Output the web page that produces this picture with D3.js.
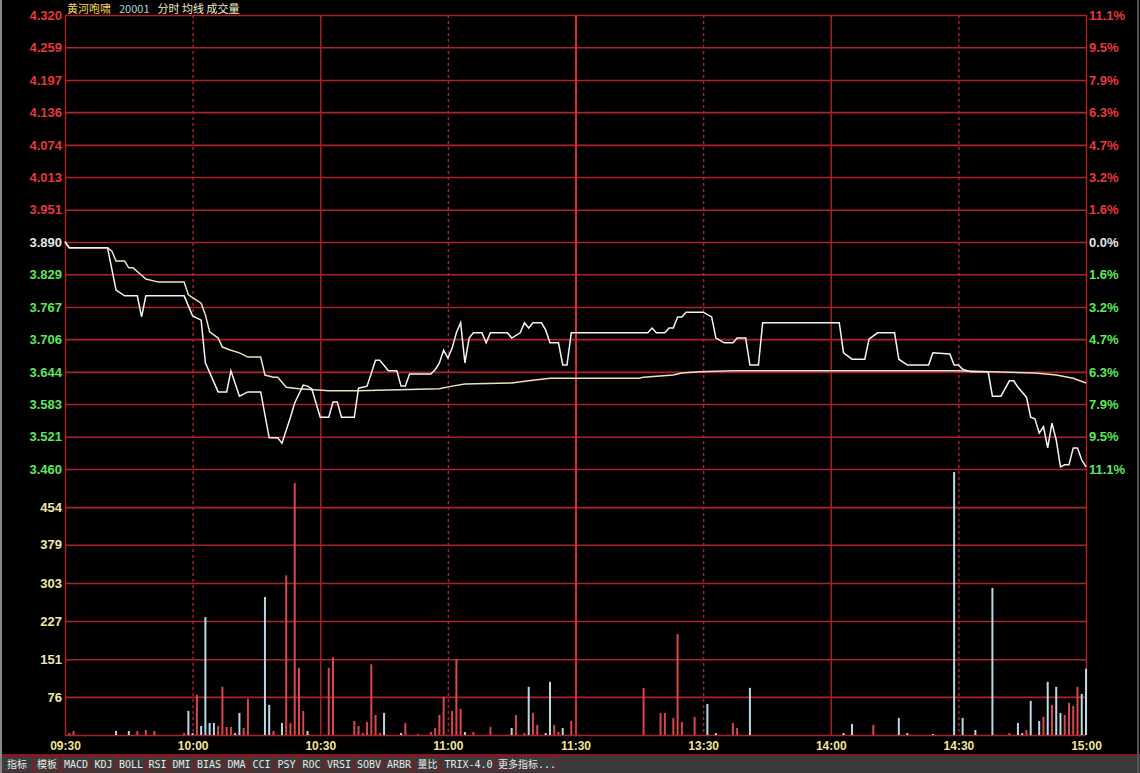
<!DOCTYPE html>
<html><head><meta charset="utf-8">
<script src="https://cdn.jsdelivr.net/npm/d3@7"></script>
<style>
html,body{margin:0;padding:0;background:#000;}
svg{display:block;}
</style></head><body>
<svg id="c" width="1140" height="773"></svg>
<script>
// ---------- data ----------
const timeLabels = ["09:30","10:00","10:30","11:00","11:30","13:30","14:00","14:30","15:00"];
const timeLabelMinutes = [0,30,60,90,120,150,180,210,240];
const priceTicks = [4.320,4.259,4.197,4.136,4.074,4.013,3.951,3.890,3.829,3.767,3.706,3.644,3.583,3.521,3.460];
const pctLabels = ["11.1%","9.5%","7.9%","6.3%","4.7%","3.2%","1.6%","0.0%","1.6%","3.2%","4.7%","6.3%","7.9%","9.5%","11.1%"];
const volTicks = [454,379,303,227,151,76];
const prevClose = 3.890;

const priceMin = [0,1,10,12,14,17,18,19,28,30,32,33,36,38,39,41,43,46,48,50,51,53,54,56,57,58,60,62,63,64,65,68,69,71,73,74,76,78,79,80,81,86,87,88,89,90,91,92,93,94,95,96,98,99,100,104,105,107,108,109,110,112,113,114,116,117,118,119,137,138,139,141,142,143,144,145,146,150,152,153,155,157,158,160,161,163,164,182,183,185,188,189,191,195,196,198,203,204,208,209,210,211,213,217,218,220,222,223,224,226,227,228,229,230,231,232,233,234,235,236,237,238,239,240];
const priceVal = [3.891,3.879,3.879,3.799,3.788,3.788,3.748,3.788,3.788,3.750,3.742,3.661,3.606,3.606,3.646,3.598,3.606,3.606,3.519,3.519,3.509,3.558,3.585,3.619,3.617,3.612,3.558,3.558,3.587,3.587,3.558,3.558,3.613,3.617,3.666,3.666,3.646,3.646,3.617,3.617,3.640,3.640,3.648,3.661,3.685,3.670,3.689,3.718,3.737,3.661,3.708,3.718,3.718,3.699,3.718,3.718,3.708,3.718,3.737,3.727,3.737,3.737,3.723,3.699,3.699,3.657,3.657,3.718,3.718,3.727,3.718,3.718,3.727,3.727,3.748,3.748,3.757,3.757,3.748,3.708,3.699,3.699,3.708,3.708,3.657,3.657,3.737,3.737,3.680,3.668,3.668,3.706,3.718,3.718,3.668,3.657,3.657,3.680,3.678,3.657,3.657,3.649,3.644,3.644,3.598,3.598,3.627,3.627,3.615,3.596,3.558,3.555,3.528,3.540,3.500,3.547,3.515,3.464,3.468,3.468,3.500,3.500,3.477,3.464];

const avgMin = [0,1,10,11,12,14,15,16,18,19,22,28,29,32,33,34,36,37,39,41,43,46,47,49,50,52,55,62,69,88,91,94,105,109,114,120,135,136,143,145,149,157,209,218,228,233,237,240];
const avgVal = [3.890,3.879,3.879,3.873,3.854,3.854,3.841,3.841,3.827,3.820,3.814,3.814,3.790,3.774,3.752,3.720,3.708,3.691,3.685,3.680,3.672,3.672,3.638,3.634,3.634,3.615,3.612,3.608,3.608,3.612,3.617,3.621,3.623,3.627,3.632,3.632,3.632,3.634,3.638,3.642,3.644,3.646,3.646,3.644,3.642,3.638,3.632,3.623];

const volMin = [1,2,12,15,17,19,21,28,29,30,31,32,33,34,35,36,37,38,39,40,41,42,43,47,48,49,51,52,53,54,55,56,57,62,63,68,69,70,71,72,73,74,75,79,80,83,86,87,88,89,91,92,93,94,96,100,105,106,108,109,110,111,113,114,115,116,117,119,136,140,141,143,144,145,148,151,153,157,158,161,183,185,190,196,198,204,209,211,214,218,222,224,225,226,227,229,230,231,232,233,234,235,236,237,238,239,240];
const volVal = [4,8,8,8,8,10,8,4,48,4,80,18,235,24,24,18,96,16,16,4,44,14,72,275,60,8,24,318,24,502,134,48,8,134,155,28,18,4,26,141,40,4,44,4,24,2,6,14,40,76,48,151,52,6,6,16,14,40,4,96,44,20,4,106,20,6,14,28,94,44,44,34,201,26,36,62,4,24,14,94,4,22,20,34,4,2,524,34,10,293,4,24,4,10,68,28,36,106,60,96,44,40,64,58,96,82,132];
const volUp = [1,1,0,0,1,1,1,1,0,0,1,0,0,0,0,1,1,1,1,0,0,1,1,0,0,1,0,1,1,1,1,1,0,1,1,1,1,1,1,1,1,1,0,0,1,1,1,1,1,1,1,1,1,0,1,1,0,1,1,0,1,1,0,0,1,1,0,1,1,1,1,1,1,1,1,0,0,1,1,0,0,0,1,0,0,0,0,0,0,0,1,0,0,1,0,0,1,0,1,0,0,1,1,1,1,0,0];

const toolbarLabels = ["指标","模板","MACD","KDJ","BOLL","RSI","DMI","BIAS","DMA","CCI","PSY","ROC","VRSI","SOBV","ARBR","量比","TRIX-4.0","更多指标..."];
const toolbarWidths = [32,28,30,25,30,23,25,30,25,25,25,25,30,30,30,27,55,62];

// ---------- layout ----------
const X0 = 65, X1 = 1086, PY0 = 15, PY1 = 469, VY1 = 735;
const GRID = "#b0222a";
const svg = d3.select("#c");

svg.append("rect").attr("width",1140).attr("height",773).attr("fill","#000");

const x = d3.scaleLinear().domain([0,240]).range([X0,X1]);
const yP = d3.scaleLinear().domain([3.460,4.320]).range([PY1,PY0]);
const yV = d3.scaleLinear().domain([0,530]).range([VY1,PY1]);

// horizontal grid
const gP = svg.append("g").attr("transform",`translate(${X0},0)`)
  .call(d3.axisLeft(yP).tickValues(priceTicks).tickSize(-(X1-X0)).tickFormat(""));
const gV = svg.append("g").attr("transform",`translate(${X0},0)`)
  .call(d3.axisLeft(yV).tickValues([0].concat(volTicks)).tickSize(-(X1-X0)).tickFormat(""));
[gP,gV].forEach(g=>{
  g.select(".domain").remove();
  g.selectAll(".tick line").attr("stroke",GRID).attr("stroke-width",1.6);
});

// vertical grid
const vx = d3.axisBottom(x).tickValues(timeLabelMinutes).tickSize(VY1-PY0).tickFormat("");
const gX = svg.append("g").attr("transform",`translate(0,${PY0})`).call(vx);
gX.select(".domain").remove();
gX.selectAll(".tick line")
  .attr("stroke",(d)=> d===120 ? "#d0303a" : GRID)
  .attr("stroke-width",(d)=> d===120 ? 2 : 1.4)
  .attr("stroke-dasharray",(d)=> (d===30||d===90||d===150||d===210) ? "3,3" : null);

// left labels
const gl = svg.append("g").attr("transform",`translate(${X0},0)`)
  .call(d3.axisLeft(yP).tickValues(priceTicks).tickSize(0).tickPadding(3).tickFormat(d3.format(".3f")));
gl.select(".domain").remove();
gl.selectAll("text").attr("font-family","Liberation Sans, Arial, sans-serif").attr("font-weight","bold")
  .attr("font-size",13)
  .attr("fill",d=> Math.abs(d-prevClose)<1e-6 ? "#e6e6e6" : (d>prevClose ? "#e8383c" : "#5ee85e"));

const gr = svg.append("g").attr("transform",`translate(${X1},0)`)
  .call(d3.axisRight(yP).tickValues(priceTicks).tickSize(0).tickPadding(3).tickFormat((d,i)=>pctLabels[i]));
gr.select(".domain").remove();
gr.selectAll("text").attr("font-family","Liberation Sans, Arial, sans-serif").attr("font-weight","bold")
  .attr("font-size",13)
  .attr("fill",d=> Math.abs(d-prevClose)<1e-6 ? "#e6e6e6" : (d>prevClose ? "#e8383c" : "#5ee85e"));

const gvl = svg.append("g").attr("transform",`translate(${X0},0)`)
  .call(d3.axisLeft(yV).tickValues(volTicks).tickSize(0).tickPadding(3).tickFormat(d3.format("d")));
gvl.select(".domain").remove();
gvl.selectAll("text").attr("font-family","Liberation Sans, Arial, sans-serif").attr("font-weight","bold")
  .attr("font-size",13).attr("fill","#f0e8a8");

// time labels
const gt = svg.append("g").attr("transform",`translate(0,${VY1})`)
  .call(d3.axisBottom(x).tickValues(timeLabelMinutes).tickSize(0).tickPadding(6).tickFormat((d,i)=>timeLabels[i]));
gt.select(".domain").remove();
gt.selectAll("text").attr("font-family","Liberation Sans, Arial, sans-serif").attr("font-weight","bold")
  .attr("font-size",12).attr("fill","#f2e49a");

// volume bars
const vols = volMin.map((m,i)=>({m, v:volVal[i], up:volUp[i]}));
svg.append("g").selectAll("line").data(vols).join("line")
  .attr("x1",d=>x(d.m)).attr("x2",d=>x(d.m))
  .attr("y1",yV(0)).attr("y2",d=>yV(d.v))
  .attr("stroke",d=>d.up ? "#d8484c" : "#b4dbe6").attr("stroke-width",2);

// avg line
const avg = avgMin.map((m,i)=>[m,avgVal[i]]);
const price = priceMin.map((m,i)=>[m,priceVal[i]]);
const ln = d3.line().x(d=>x(d[0])).y(d=>yP(d[1]));
svg.append("path").attr("d",ln(avg)).attr("fill","none").attr("stroke","#ece2c0").attr("stroke-width",1.5);
svg.append("path").attr("d",ln(price)).attr("fill","none").attr("stroke","#f4f4f4").attr("stroke-width",1.5);

// header
const hdr = svg.append("text").attr("x",67).attr("y",13).attr("font-size",11)
  .attr("font-family","Noto Sans CJK SC, sans-serif");
hdr.append("tspan").attr("fill","#f0d460").text("黄河咆啸");
hdr.append("tspan").attr("fill","#a8d8d8").attr("dx",8).text("20001");
hdr.append("tspan").attr("fill","#f4ecc8").attr("dx",8).text("分时 均线 成交量");

// bottom line and toolbar
svg.append("line").attr("x1",0).attr("x2",1140).attr("y1",755).attr("y2",755).attr("stroke",GRID).attr("stroke-width",1.5);
svg.append("rect").attr("x",0).attr("y",756).attr("width",1140).attr("height",17).attr("fill","#3a3a3a");
let bx = 1;
const tb = svg.append("g");
toolbarLabels.forEach((t,i)=>{
  const w = toolbarWidths[i];
  tb.append("rect").attr("x",bx+0.5).attr("y",756.5).attr("width",w-1).attr("height",15)
    .attr("fill","#3c3c3c").attr("stroke","#7a1c20").attr("stroke-width",1);
  tb.append("text").attr("x",bx+w/2).attr("y",768).attr("text-anchor","middle")
    .attr("font-size",10).attr("fill","#e8e8e8")
    .attr("font-family","DejaVu Sans Mono, Noto Sans CJK SC, monospace")
    .text(t);
  bx += w;
});

// outer frame
svg.append("line").attr("x1",1).attr("x2",1).attr("y1",0).attr("y2",773).attr("stroke","#888").attr("stroke-width",2);
svg.append("line").attr("x1",1138).attr("x2",1138).attr("y1",0).attr("y2",773).attr("stroke","#555").attr("stroke-width",2);
</script>
</body></html>
